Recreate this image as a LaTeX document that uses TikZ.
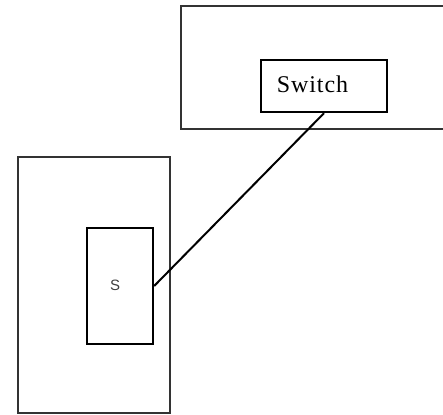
\documentclass[tikz,border=0pt]{standalone}
\usepackage{fontspec}
\setmainfont{Liberation Serif}
\newfontfamily\labelsans{Liberation Sans}
\begin{document}
\begin{tikzpicture}[x=1pt,y=-1pt,
  outerbox/.style={draw=black!80, line width=1.3pt, minimum width=#1, inner sep=0pt},
  innerbox/.style={draw=black, line width=2.3pt, inner sep=0pt},
  connector/.style={draw=black, line width=2pt},
  switchtext/.style={font=\addfontfeatures{LetterSpace=4}\fontsize{24}{24}\selectfont, inner sep=0pt},
  stext/.style={font=\labelsans\fontsize{15}{15}\selectfont, text=black!75, inner sep=0pt}]
\useasboundingbox (0,0) rectangle (443,414);
\clip (0,0) rectangle (443,414);
\fill[white] (0,0) rectangle (443,414);
\node[outerbox=279pt, minimum height=123pt] (top) at (320.5,67.5) {};
\node[outerbox=152pt, minimum height=256pt] (left) at (94,285) {};
\node[innerbox, minimum width=126pt, minimum height=52pt] (switch) at (324,86) {};
\node[innerbox, minimum width=66pt, minimum height=116pt] (sbox) at (120,286) {};
\node[switchtext] (switchlabel) at (312.5,84) {Switch};
\node[stext] (slabel) at (115,285) {S};
\draw[connector] (sbox.east) -- (switch.south);
\end{tikzpicture}
\end{document}
